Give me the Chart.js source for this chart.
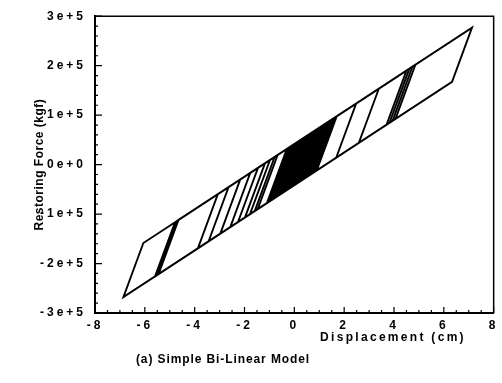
<!DOCTYPE html>
<html>
<head>
<meta charset="utf-8">
<title>Simple Bi-Linear Model</title>
<script src="https://cdn.jsdelivr.net/npm/chart.js@4.4.0/dist/chart.umd.min.js"></script>
<style>
  html, body { margin: 0; padding: 0; background: #fff; }
</style>
</head>
<body>
<canvas id="loop" width="502" height="383"></canvas>
<script>
'use strict';

// turning points of the hysteresis path (cm)
var displacement = [
  0, 0.41,
  0.5, -0.3, -1.1, -0.3,
  0.9, 0.1, -0.9, -0.1,
  1.2, 0.4, -0.8, 0.0,
  1.4, 0.6, -1.0, -0.2,
  1.6, 0.8, -0.7, 0.1,
  2.48, 1.68, -1.47, -0.67,
  1.7, 0.9, -1.78, -0.98,
  3.39, 2.59, -2.26, -1.46,
  4.5, 3.7, -2.97, -2.17,
  7.13, 6.33, -6.86, -6.06,
  4.62, 3.82, -5.45, -4.65,
  4.74, 3.94, -5.52, -4.72,
  4.86, 4.06, -5.59, -4.79,
  1.5, 0.7, -3.87, -3.07,
  1.3, 0.5, -3.44, -2.64,
  1.1, 0.3, -2.57, -1.77,
  1.0, 0.2, -1.98, -1.18,
  0.8, 0.0, -1.59, -0.79,
  0.7, -0.1, -0.6, 0.2,
  0.6, -0.2, -0.5, 0.3,
  0.4, -0.4
];

// restoring force at each turning point (kgf)
var force = [
  0, 55100,
  58000, -51400, -77800, 31600,
  71200, -38200, -71200, 38200,
  81100, -28300, -67900, 41500,
  87700, -21700, -74500, 34900,
  94300, -15100, -64600, 44800,
  123300, 13900, -90000, 19400,
  97600, -11800, -100200, 9200,
  153400, 44000, -116100, -6700,
  190000, 80600, -139500, -30100,
  276800, 167400, -267900, -158500,
  194000, 84600, -221400, -111900,
  197900, 88500, -223700, -114300,
  201900, 92500, -226000, -116600,
  91000, -18400, -169200, -59800,
  84400, -25000, -155000, -45600,
  77800, -31600, -126300, -16900,
  74500, -34900, -106800, 2600,
  67900, -41500, -94000, 15400,
  64600, -44800, -61300, 48100,
  61300, -48100, -58000, 51400,
  54700, -54700
];

var xTicks = [-8, -6, -4, -2, 0, 2, 4, 6, 8];
var yTicks = [-300000, -200000, -100000, 0, 100000, 200000, 300000];
var yTickLabels = ['-3e+5', '-2e+5', '-1e+5', '0e+0', '1e+5', '2e+5', '3e+5'];

var xTitle = 'Displacement (cm)';
var yTitle = 'Restoring Force (kgf)';
var caption = '(a) Simple Bi-Linear Model';

var fontFamily = "'Liberation Sans', Arial, sans-serif";
var tickFont = { family: fontFamily, size: 12, weight: 'bold' };

var points = displacement.map(function (d, i) {
  return { x: d, y: force[i] };
});

// frame, inward tick marks and the text that sits outside the scales
var framePlugin = {
  id: 'frame',
  beforeDraw: function (chart) {
    chart.ctx.letterSpacing = '3px';
  },
  afterDraw: function (chart) {
    var ctx = chart.ctx;
    var a = chart.chartArea;
    var xs = chart.scales.x;
    var ys = chart.scales.y;
    var v, p;

    ctx.save();
    ctx.strokeStyle = '#000';
    ctx.lineWidth = 1.5;
    ctx.beginPath();
    ctx.moveTo(a.left, a.top);
    ctx.lineTo(a.right, a.top);
    ctx.lineTo(a.right, a.bottom);
    ctx.stroke();

    // x ticks, major every 2, minor every 0.5
    ctx.lineWidth = 1.2;
    ctx.beginPath();
    for (v = -8; v <= 8; v += 0.5) {
      p = xs.getPixelForValue(v);
      ctx.moveTo(p, a.bottom);
      ctx.lineTo(p, a.bottom - (v % 2 === 0 ? 6 : 3));
    }
    // y ticks, major every 1e5, minor every 2e4
    for (v = -300000; v <= 300000; v += 20000) {
      p = ys.getPixelForValue(v);
      ctx.moveTo(a.left, p);
      ctx.lineTo(a.left + (v % 100000 === 0 ? 7 : 3), p);
    }
    ctx.stroke();

    ctx.fillStyle = '#000';
    ctx.textBaseline = 'middle';
    ctx.textAlign = 'center';

    ctx.font = 'bold 12px ' + fontFamily;
    ctx.letterSpacing = '2.3px';
    ctx.fillText(xTitle, 393, 338);

    ctx.letterSpacing = '0.9px';
    ctx.fillText(caption, 223, 360);

    ctx.letterSpacing = '0.5px';
    ctx.translate(40, (a.top + a.bottom) / 2);
    ctx.rotate(-Math.PI / 2);
    ctx.fillText(yTitle, 0, 0);
    ctx.restore();
  }
};

var ctx = document.getElementById('loop').getContext('2d');
var loopChart = new Chart(ctx, {
  type: 'scatter',
  data: {
    datasets: [{
      label: 'Restoring force',
      data: points,
      showLine: true,
      borderColor: '#000',
      backgroundColor: '#000',
      borderWidth: 1.9,
      pointRadius: 0,
      tension: 0
    }]
  },
  options: {
    responsive: false,
    animation: false,
    layout: { padding: { top: 14, right: 2, left: 0, bottom: 0 } },
    plugins: {
      legend: { display: false },
      tooltip: { enabled: false }
    },
    scales: {
      x: {
        type: 'linear',
        min: -8,
        max: 8,
        afterBuildTicks: function (scale) {
          scale.ticks = xTicks.map(function (v) { return { value: v }; });
        },
        afterFit: function (scale) { scale.height = 70; },
        grid: { display: false, drawTicks: false },
        border: { display: true, color: '#000', width: 2 },
        ticks: {
          color: '#000',
          font: tickFont,
          padding: 5,
          maxRotation: 0,
          autoSkip: false
        }
      },
      y: {
        type: 'linear',
        min: -300000,
        max: 300000,
        afterBuildTicks: function (scale) {
          scale.ticks = yTicks.map(function (v) { return { value: v }; });
        },
        afterFit: function (scale) { scale.width = 95; },
        grid: { display: false, drawTicks: false },
        border: { display: true, color: '#000', width: 2 },
        ticks: {
          color: '#000',
          font: tickFont,
          padding: 9,
          autoSkip: false,
          callback: function (value) {
            return yTickLabels[yTicks.indexOf(value)];
          }
        }
      }
    }
  },
  plugins: [framePlugin]
});
</script>
</body>
</html>
